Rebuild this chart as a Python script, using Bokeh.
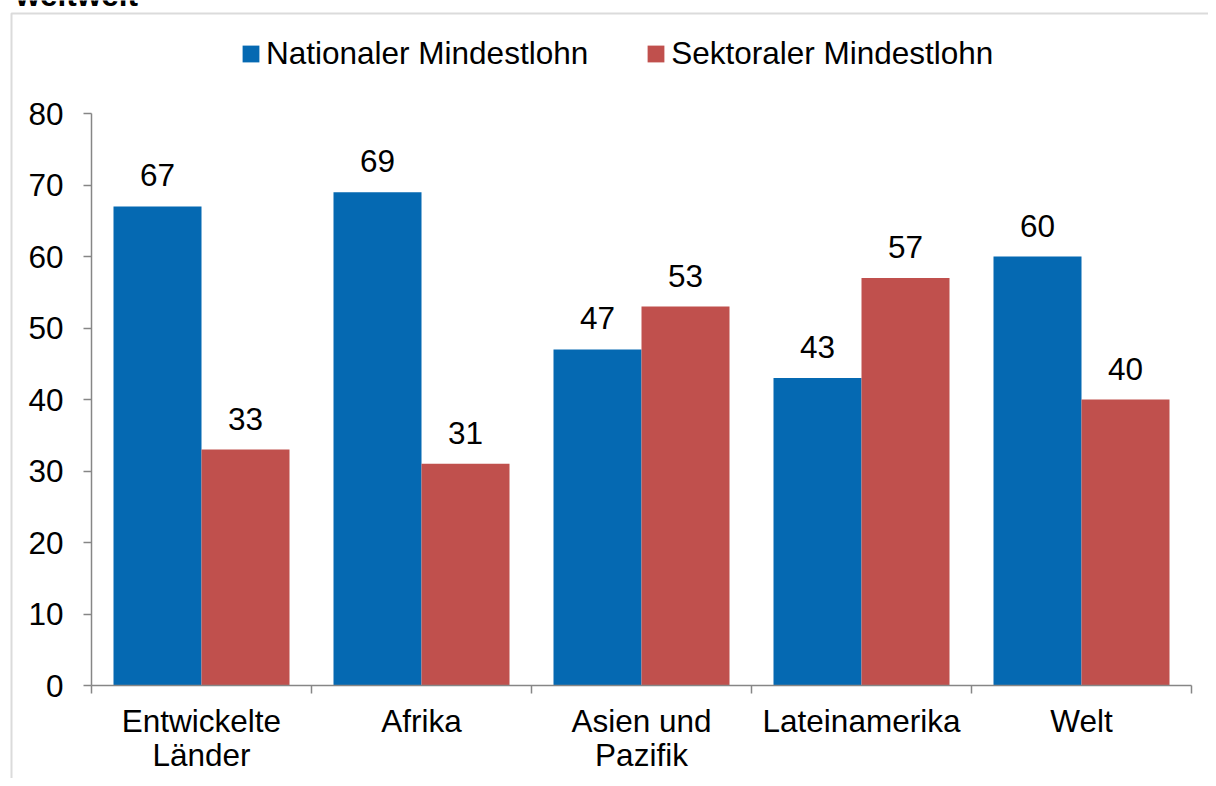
from bokeh.plotting import figure
from bokeh.models import (ColumnDataSource, Range1d, FixedTicker, Legend, LegendItem,
                          LabelSet, Label, BoxAnnotation)
from bokeh.core.properties import value
from bokeh.embed import file_html
from bokeh.resources import INLINE

# ---- data ----
categories = ["Entwickelte\nLänder", "Afrika", "Asien und\nPazifik", "Lateinamerika", "Welt"]
national = [67, 69, 47, 43, 60]
sektoral = [33, 31, 53, 57, 40]
series_names = ["Nationaler Mindestlohn", "Sektoraler Mindestlohn"]
y_ticks = [0, 10, 20, 30, 40, 50, 60, 70, 80]
title_text = "weltweit"

# ---- layout (pixels) ----
W, H = 1208, 778
PA_L, PA_R, PA_T, PA_B = 91, 1191, 113, 685   # plot area in canvas pixels
Y_MAX = 80
NCAT = len(categories)
sx = (PA_R - PA_L) / NCAT          # px per x unit
sy = (PA_B - PA_T) / Y_MAX         # px per y unit


def xd(px):
    return (px - PA_L) / sx


def yd(py):
    return (PA_B - py) / sy


BLUE = "#0569b2"
RED = "#c0504d"
GREY = "#868686"
FONT = "Liberation Sans"
FS = "31.5px"

centers = [i + 0.5 for i in range(NCAT)]
src_n = ColumnDataSource(dict(x=[c - 0.2 for c in centers], top=national,
                              lab=[str(v) for v in national]))
src_s = ColumnDataSource(dict(x=[c + 0.2 for c in centers], top=sektoral,
                              lab=[str(v) for v in sektoral]))

p = figure(width=W, height=H, output_backend="svg", toolbar_location=None,
           x_range=Range1d(xd(0), xd(W)), y_range=Range1d(yd(H), yd(0)),
           min_border=0)
p.outline_line_color = None
p.grid.grid_line_color = None
p.background_fill_color = "white"
p.border_fill_color = "white"

rn = p.vbar(x="x", top="top", width=0.4, bottom=0, source=src_n, fill_color=BLUE,
            line_color=None)
rs = p.vbar(x="x", top="top", width=0.4, bottom=0, source=src_s, fill_color=RED,
            line_color=None)

for s in (src_n, src_s):
    p.add_layout(LabelSet(x="x", y="top", text="lab", source=s, text_align="center",
                          text_baseline="alphabetic", y_offset=20,
                          text_font=value(FONT), text_font_size=value(FS),
                          text_color="black"))

# axes
xa = p.xaxis[0]
xa.fixed_location = 0
xa.bounds = (0, NCAT)
xa.ticker = FixedTicker(ticks=centers, minor_ticks=[float(i) for i in range(NCAT + 1)])
xa.major_label_overrides = {c: lab for c, lab in zip(centers, categories)}
xa.major_tick_line_color = None
xa.minor_tick_out = 8
xa.minor_tick_in = 0
xa.minor_tick_line_color = GREY
xa.minor_tick_line_width = 1.5
xa.axis_line_color = GREY
xa.axis_line_width = 1.5
xa.major_label_text_font = FONT
xa.major_label_text_font_size = FS
xa.major_label_text_color = "black"
xa.major_label_text_line_height = 0.97
xa.major_label_standoff = 9

ya = p.yaxis[0]
ya.fixed_location = 0
ya.bounds = (0, Y_MAX)
ya.ticker = FixedTicker(ticks=y_ticks)
ya.major_tick_out = 8
ya.major_tick_in = 0
ya.major_tick_line_color = GREY
ya.major_tick_line_width = 1.5
ya.minor_tick_line_color = None
ya.axis_line_color = GREY
ya.axis_line_width = 1.5
ya.major_label_text_font = FONT
ya.major_label_text_font_size = FS
ya.major_label_text_color = "black"
ya.major_label_standoff = 20

legend = Legend(items=[LegendItem(label=series_names[0], renderers=[rn]),
                       LegendItem(label=series_names[1], renderers=[rs])],
                orientation="horizontal", location=(240, H - 72),
                label_text_font=FONT, label_text_font_size=FS,
                label_text_color="black", glyph_width=21, glyph_height=21,
                label_standoff=5, spacing=57, padding=0, margin=0,
                border_line_color=None, background_fill_alpha=0)
p.add_layout(legend, "center")

# chart-area border (left and top edges visible)
p.add_layout(BoxAnnotation(left=xd(11), top=yd(13), right=xd(W + 20), bottom=yd(H + 20),
                           fill_alpha=0, line_color="#898989", line_width=2))

# title, cut off at the top as in the source
p.add_layout(Label(x=xd(15), y=yd(-6), text=title_text, text_font=FONT,
                   text_font_size=FS, text_font_style="bold",
                   text_baseline="alphabetic", text_color="black"))

open("out.html", "w").write(file_html(p, INLINE))
